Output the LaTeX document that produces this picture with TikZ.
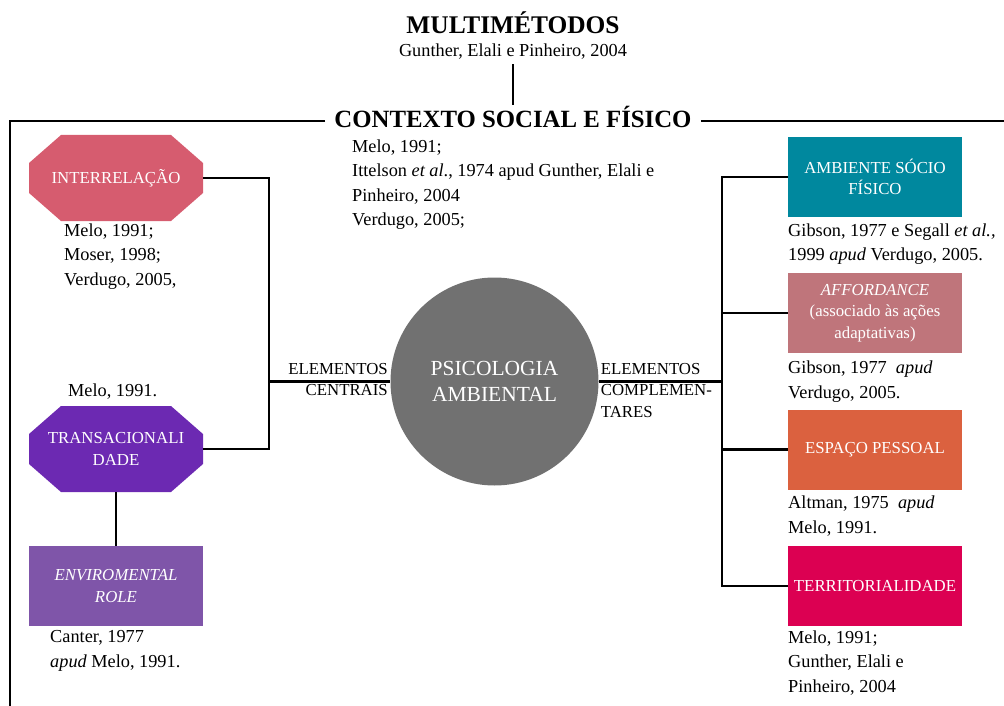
\documentclass[tikz,border=0pt]{standalone}
\usepackage{fontspec}
\setmainfont{Liberation Serif}
\usetikzlibrary{calc}
\definecolor{cInter}{HTML}{D65C6F}
\definecolor{cTrans}{HTML}{6C29B2}
\definecolor{cEnv}{HTML}{7F55A9}
\definecolor{cAmb}{HTML}{00889E}
\definecolor{cAff}{HTML}{BF757B}
\definecolor{cEsp}{HTML}{DB613F}
\definecolor{cTerr}{HTML}{DC0052}
\definecolor{cCirc}{HTML}{717171}
\newcommand\octafill[2]{%
  \fill[#2] (#1) ++(-55,-43) -- ++(110,0) -- ++(32,28) -- ++(0,30) -- ++(-32,28)
    -- ++(-110,0) -- ++(-32,-28) -- ++(0,-30) -- cycle;}
\begin{document}
\begin{tikzpicture}[x=1pt,y=-1pt,
  conn/.style={line width=2.2pt, black},
  cite/.style={font=\fontsize{18.3}{24.4}\selectfont, align=left, anchor=base west, inner sep=0pt},
  lbl/.style={font=\fontsize{16.8}{21.5}\selectfont, text=white, align=center, inner sep=0pt},
  boxsz/.style={minimum width=174pt, minimum height=80pt},
  elab/.style={font=\fontsize{16.8}{21.4}\selectfont, inner sep=0pt}]
\useasboundingbox (0,0) rectangle (1004,706);

% titles
\node[font=\bfseries\fontsize{25.4}{30}\selectfont, anchor=base, inner sep=0pt] (tit) at (513,34) {MULTIMÉTODOS};
\node[font=\fontsize{18.3}{24.4}\selectfont, anchor=base, inner sep=0pt] (gunt) at (513,57) {Gunther, Elali e Pinheiro, 2004};
\node[font=\bfseries\fontsize{24.8}{30}\selectfont, anchor=base, inner ysep=0pt, inner xsep=9pt, text height=14pt, text depth=0pt] (ctx) at (513,128) {CONTEXTO SOCIAL E FÍSICO};
\coordinate (fb) at (10,706);
\coordinate (fr) at (1004,121);
\draw[conn] ([yshift=-4pt]gunt.south) -- ([yshift=9pt]ctx.north);
\draw[conn] (ctx.west) -| (fb);
\draw[conn] (ctx.east) -- (ctx.east -| fr);

% left side
\coordinate (ic) at (116,178);
\coordinate (tc) at (116,449);
\octafill{ic}{cInter}
\octafill{tc}{cTrans}
\node[lbl, minimum width=174pt, minimum height=86pt] (inter) at (ic) {INTERRELAÇÃO};
\node[lbl, minimum width=174pt, minimum height=86pt] (trans) at (tc) {TRANSACIONALI\\DADE};
\node[lbl, boxsz, fill=cEnv, font=\itshape\fontsize{16.8}{21.5}\selectfont] (env) at (116,586) {ENVIROMENTAL\\ROLE};

% (base anchor of a multi-line node = baseline of its last line)
\node[cite] (c1) at (64,285.3) {Melo, 1991;\\Moser, 1998;\\Verdugo, 2005,};
\node[cite] (c2) at (68,396.7) {Melo, 1991.};
\node[cite] (c3) at (50,667) {Canter, 1977\\\textit{apud} Melo, 1991.};

% centre
\node[circle, fill=cCirc, minimum size=208pt, inner sep=0pt, text=white, align=center,
  font=\fontsize{21.5}{26}\selectfont] (psi) at (494.5,381.5) {PSICOLOGIA\\AMBIENTAL};
\node[cite] (c0) at (352,225.5) {Melo, 1991;\\Ittelson \textit{et al}., 1974 apud Gunther, Elali e\\Pinheiro, 2004\\Verdugo, 2005;};
\node[elab, align=right, anchor=base east] (ec) at (388,395.7) {ELEMENTOS\\CENTRAIS};
\node[elab, align=left, anchor=base west] (ecomp) at (600.7,417.3) {ELEMENTOS\\COMPLEMEN-\\TARES};

\coordinate (lj) at (269,381.5);
\coordinate (rj) at (722,381.5);
\draw[conn] (inter.east) -| (lj) |- (trans.east);
\draw[conn] (lj) -- (psi.west);
\draw[conn] (trans.south) -- (env.north);

% right side
\node[lbl, boxsz, fill=cAmb] (amb) at (875,177) {AMBIENTE SÓCIO\\FÍSICO};
\node[lbl, boxsz, fill=cAff] (aff) at (875,313) {\textit{AFFORDANCE}\\(associado às ações\\adaptativas)};
\node[lbl, boxsz, fill=cEsp] (esp) at (875,449.5) {ESPAÇO PESSOAL};
\node[lbl, boxsz, fill=cTerr] (terr) at (875,586) {TERRITORIALIDADE};

\draw[conn] (psi.east) -- (rj);
\draw[conn] (amb.west) -| (rj) |- (terr.west);
\draw[conn] (aff.west) -- (aff.west -| rj);
\draw[conn] (esp.west) -- (esp.west -| rj);

\node[cite] (r1) at (788,260.7) {Gibson, 1977 e Segall \textit{et al.,}\\1999 \textit{apud} Verdugo, 2005.};
\node[cite] (r2) at (788,398.3) {Gibson, 1977 \ \textit{apud}\\Verdugo, 2005.};
\node[cite] (r3) at (788,533.3) {Altman, 1975 \ \textit{apud}\\Melo, 1991.};
\node[cite] (r4) at (788,692) {Melo, 1991;\\Gunther, Elali e\\Pinheiro, 2004};
\end{tikzpicture}
\end{document}
